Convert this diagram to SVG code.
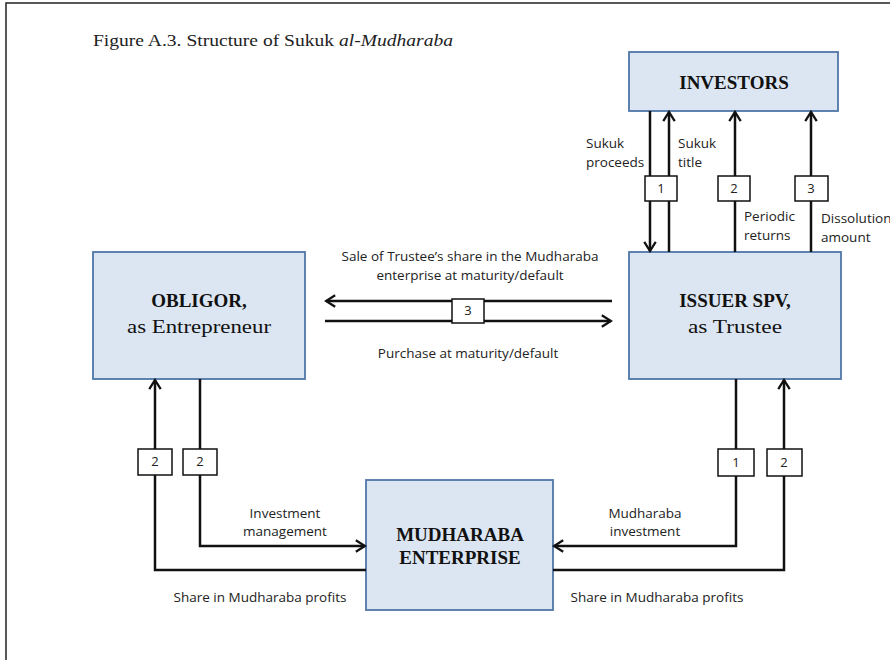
<svg xmlns="http://www.w3.org/2000/svg" width="890" height="660" viewBox="0 0 890 660">
<style>
.node{fill:#dce6f2;stroke:#4f76a8;stroke-width:1.8}
.ttl{font-family:"Liberation Serif",serif;font-size:19px;fill:#111;text-anchor:middle}
.b{font-weight:bold}
.lbl{font-family:"Open Sans",sans-serif;font-size:13.5px;fill:#222}
.mid{text-anchor:middle}
.num{fill:#fff;stroke:#111;stroke-width:1.5}
.nt{font-family:"Open Sans",sans-serif;font-size:13px;fill:#222;text-anchor:middle}
.ln{fill:none;stroke:#111;stroke-width:2.5}
</style>
<defs>
<marker id="ah" viewBox="0 0 12 12" refX="10" refY="6" markerWidth="5.5" markerHeight="5.5" markerUnits="strokeWidth" orient="auto">
<path d="M2,1 L10,6 L2,11" fill="none" stroke="#111" stroke-width="2"/>
</marker>
</defs>
<rect width="890" height="660" fill="#fff"/>
<path d="M6,660 V3 H890" fill="none" stroke="#222" stroke-width="1.5"/>
<text x="93" y="46" font-family="Liberation Serif,serif" font-size="17" fill="#222" textLength="360" lengthAdjust="spacingAndGlyphs">Figure A.3. Structure of Sukuk <tspan font-style="italic">al-Mudharaba</tspan></text>

<g id="investors"><rect class="node" x="629" y="52" width="209" height="59"/><text class="ttl b" x="734" y="89">INVESTORS</text></g>
<g id="issuer"><rect class="node" x="629" y="252" width="212" height="127"/><text class="ttl b" x="735" y="307">ISSUER SPV,</text><text class="ttl" x="735" y="333" font-size="20" textLength="94" lengthAdjust="spacingAndGlyphs">as Trustee</text></g>
<g id="obligor"><rect class="node" x="93" y="252" width="212" height="127"/><text class="ttl b" x="199" y="307">OBLIGOR,</text><text class="ttl" x="199" y="333" font-size="20" textLength="144" lengthAdjust="spacingAndGlyphs">as Entrepreneur</text></g>
<g id="mudharaba"><rect class="node" x="366" y="480" width="187" height="130"/><text class="ttl b" x="460" y="541">MUDHARABA</text><text class="ttl b" x="460" y="564">ENTERPRISE</text></g>

<g id="connectors">
<line class="ln" x1="650" y1="111" x2="650" y2="251" marker-end="url(#ah)"/>
<line class="ln" x1="669" y1="252" x2="669" y2="112" marker-end="url(#ah)"/>
<line class="ln" x1="735" y1="252" x2="735" y2="112" marker-end="url(#ah)"/>
<line class="ln" x1="811" y1="252" x2="811" y2="112" marker-end="url(#ah)"/>
<line class="ln" x1="612" y1="301" x2="326" y2="301" marker-end="url(#ah)"/>
<line class="ln" x1="325" y1="321" x2="611" y2="321" marker-end="url(#ah)"/>
<polyline class="ln" points="366,570 155,570 155,380" marker-end="url(#ah)"/>
<polyline class="ln" points="200,379 200,546 365,546" marker-end="url(#ah)"/>
<polyline class="ln" points="736,379 736,546 554,546" marker-end="url(#ah)"/>
<polyline class="ln" points="553,570 784,570 784,380" marker-end="url(#ah)"/>

<rect class="num" x="645" y="176" width="32" height="25"/><text class="nt" x="661" y="193">1</text>
<rect class="num" x="718" y="176" width="32" height="25"/><text class="nt" x="734" y="193">2</text>
<rect class="num" x="795" y="176" width="33" height="25"/><text class="nt" x="811" y="193">3</text>
<rect class="num" x="452" y="299" width="32" height="24"/><text class="nt" x="468" y="315">3</text>
<rect class="num" x="138" y="449" width="34" height="26"/><text class="nt" x="155" y="466">2</text>
<rect class="num" x="183" y="449" width="34" height="26"/><text class="nt" x="200" y="466">2</text>
<rect class="num" x="718" y="449" width="36" height="27"/><text class="nt" x="736" y="467">1</text>
<rect class="num" x="767" y="449" width="35" height="27"/><text class="nt" x="784" y="467">2</text>

<text class="lbl" x="586" y="148">Sukuk</text>
<text class="lbl" x="586" y="167">proceeds</text>
<text class="lbl" x="678" y="148">Sukuk</text>
<text class="lbl" x="678" y="167">title</text>
<text class="lbl" x="744" y="221">Periodic</text>
<text class="lbl" x="744" y="240">returns</text>
<text class="lbl" x="821" y="223">Dissolution</text>
<text class="lbl" x="821" y="242">amount</text>
<text class="lbl mid" x="470" y="261">Sale of Trustee’s share in the Mudharaba</text>
<text class="lbl mid" x="470" y="280">enterprise at maturity/default</text>
<text class="lbl mid" x="468" y="358">Purchase at maturity/default</text>
<text class="lbl mid" x="285" y="518">Investment</text>
<text class="lbl mid" x="285" y="536">management</text>
<text class="lbl mid" x="260" y="602">Share in Mudharaba profits</text>
<text class="lbl mid" x="645" y="518">Mudharaba</text>
<text class="lbl mid" x="645" y="536">investment</text>
<text class="lbl mid" x="657" y="602">Share in Mudharaba profits</text>
</g>
</svg>
